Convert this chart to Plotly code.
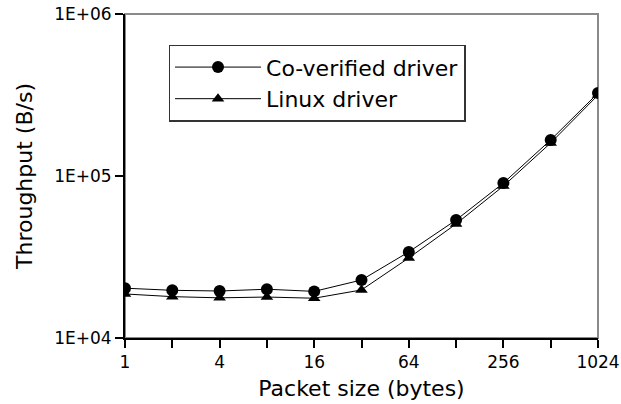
import plotly.graph_objects as go

packet_sizes = [1, 2, 4, 8, 16, 32, 64, 128, 256, 512, 1024]
coverified = [20300, 19700, 19500, 20000, 19400, 22800, 34000, 53500, 90500, 167000, 325000]
linux = [18700, 18000, 17700, 17900, 17600, 19800, 31200, 50600, 86700, 160000, 316000]
x_tick_labels = ["1", "", "4", "", "16", "", "64", "", "256", "", "1024"]
y_tick_vals = [1e4, 1e5, 1e6]
y_tick_labels = ["1E+04", "1E+05", "1E+06"]

fig = go.Figure()
fig.add_trace(go.Scatter(x=packet_sizes, y=coverified, name="Co-verified driver",
                         mode="lines+markers",
                         line=dict(color="black", width=1),
                         marker=dict(symbol="circle", size=12, color="black")))
fig.add_trace(go.Scatter(x=packet_sizes, y=linux, name="Linux driver",
                         mode="lines+markers",
                         line=dict(color="black", width=1),
                         marker=dict(symbol="triangle-up", size=11, color="black")))

fig.update_layout(
    width=621, height=404,
    margin=dict(l=125, r=23, t=14, b=66),
    paper_bgcolor="white", plot_bgcolor="white",
    font=dict(family="DejaVu Sans", color="black", size=17),
    showlegend=True,
    legend=dict(x=0.092, y=0.905, xanchor="left", yanchor="top",
                bordercolor="#333333", borderwidth=1.5, bgcolor="white",
                font=dict(size=22, family="DejaVu Sans"),
                tracegroupgap=0, itemwidth=86),
    shapes=[dict(type="rect", xref="paper", yref="paper", x0=0, y0=0, x1=1, y1=1,
                 line=dict(color="#8a8a8a", width=2), layer="below")],
)
fig.update_xaxes(type="log", range=[0, 3.0103], automargin=False,
                 tickvals=packet_sizes, ticktext=x_tick_labels,
                 ticks="outside", ticklen=8, tickcolor="black", tickwidth=1.5,
                 showline=True, linecolor="black", linewidth=2,
                 showgrid=False, zeroline=False,
                 title=dict(text="Packet size (bytes)", font=dict(size=22), standoff=9),
                 tickfont=dict(size=17))
fig.update_yaxes(type="log", range=[4, 6], automargin=False,
                 tickvals=y_tick_vals, ticktext=y_tick_labels,
                 ticks="outside", ticklen=8, tickcolor="black", tickwidth=1.5,
                 showline=True, linecolor="black", linewidth=2,
                 showgrid=False, zeroline=False,
                 title=dict(text="Throughput (B/s)", font=dict(size=22), standoff=15),
                 tickfont=dict(size=17))

fig.write_html("out.html", config={"displayModeBar": False},
               post_script="document.body.style.margin='0';")
